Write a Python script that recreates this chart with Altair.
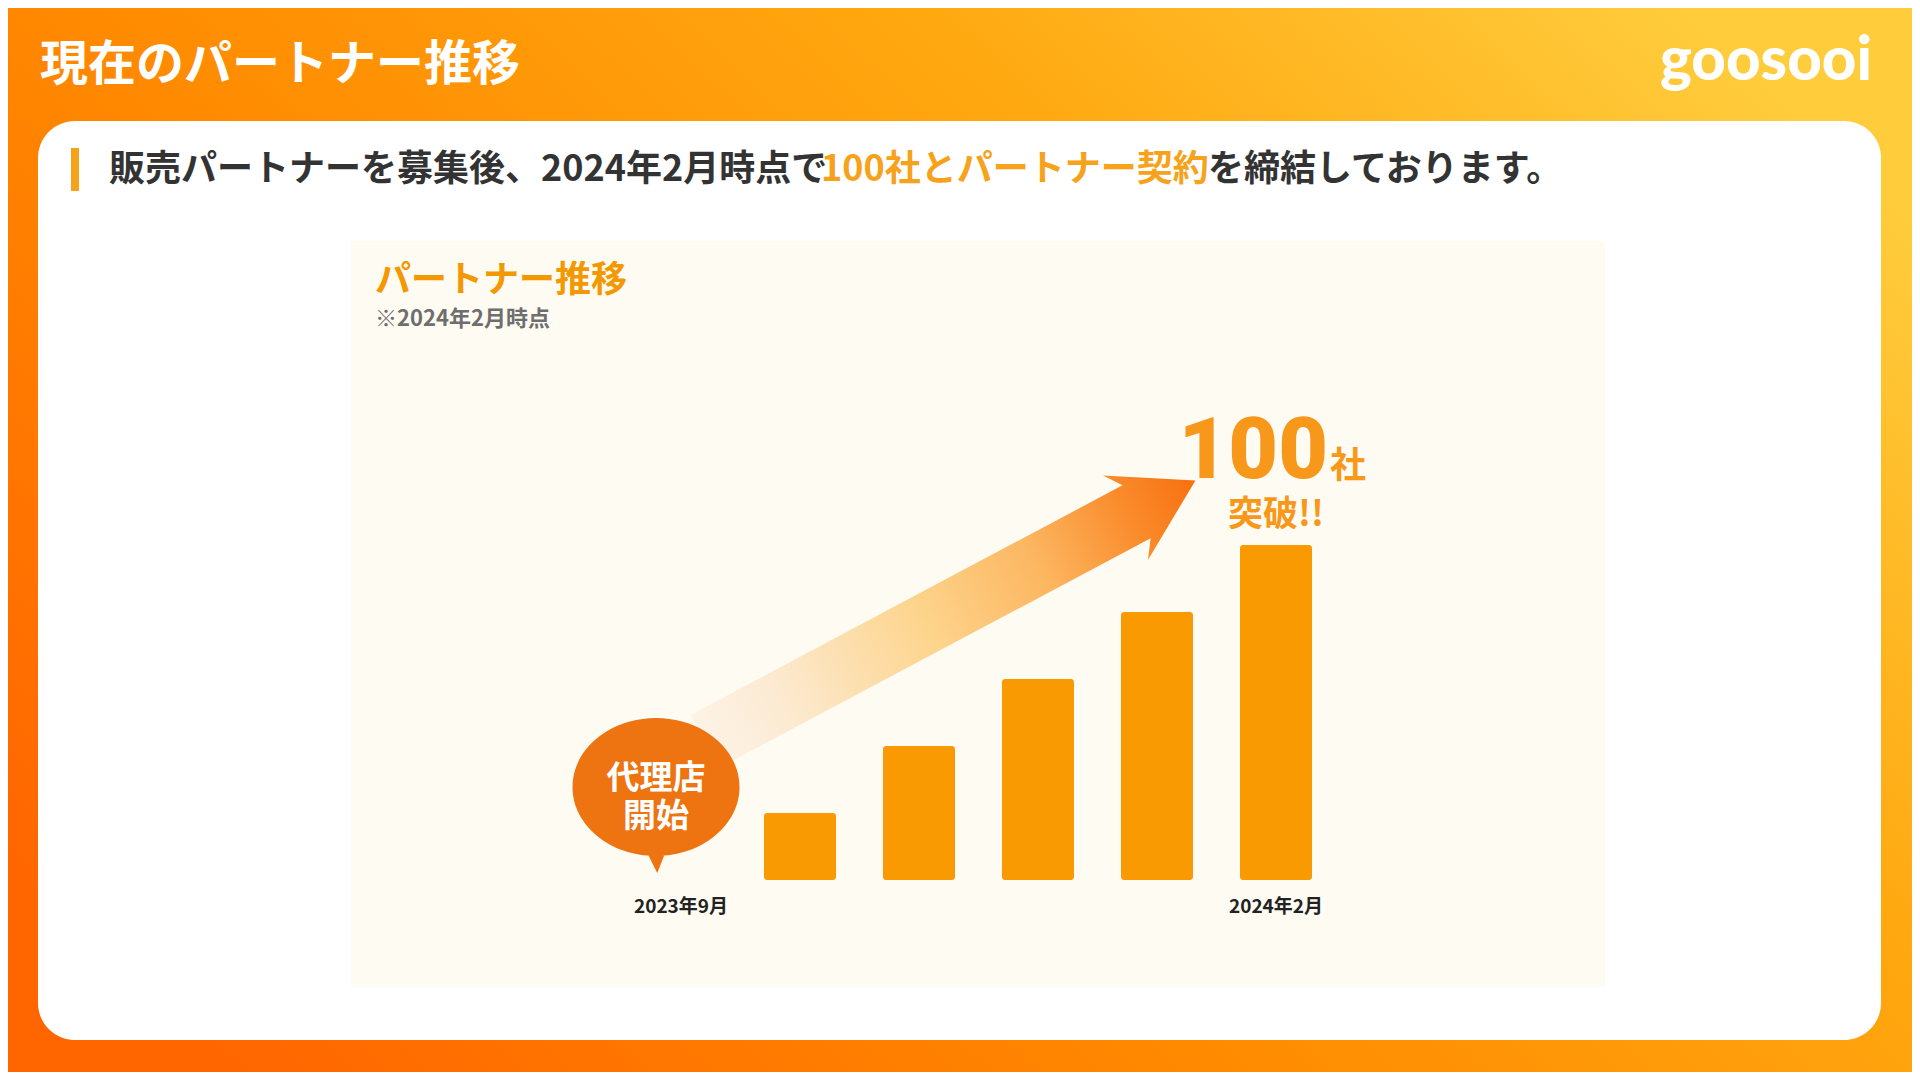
import altair as alt
import pandas as pd

# ---- data -------------------------------------------------------------
months = ["2023年9月", "2023年10月", "2023年11月", "2023年12月", "2024年1月", "2024年2月"]
partners = [0, 20, 40, 60, 80, 100]
month_labels = ["2023年9月", "", "", "", "", "2024年2月"]

page_title = "現在のパートナー推移"
lead_1 = "販売パートナーを募集後、2024年2月時点で"
lead_2 = "100社とパートナー契約"
lead_3 = "を締結しております。"
panel_title = "パートナー推移"
panel_note = "※2024年2月時点"
bubble_text = "代理店\n開始"
goal_number = "100"
goal_unit = "社"
goal_text = "突破!!"
logo_text = "goosooi"

df = pd.DataFrame({"month": months, "partners": partners, "label": month_labels})

W, H = 1904, 1064
FONT = "Noto Sans CJK JP"
ORANGE = "#F99A02"

xscale = alt.Scale(domain=months, range=[613.5, 1327.5], paddingInner=0.395, paddingOuter=0.1975)
yscale = alt.Scale(domain=[0, 100], range=[872, 537])
X = alt.X("month:N", scale=xscale, axis=None, sort=months)

one = pd.DataFrame({"k": [0]})
base1 = alt.Chart(one)

bg = base1.mark_rect(
    color=alt.Gradient(
        gradient="linear",
        stops=[
            alt.GradientStop(color="#FF6600", offset=0),
            alt.GradientStop(color="#FF8A00", offset=0.38),
            alt.GradientStop(color="#FFA810", offset=0.7),
            alt.GradientStop(color="#FFCC3C", offset=1),
        ],
        x1=0, y1=0.8, x2=1, y2=0.2,
    )
).encode(x=alt.value(0), x2=alt.value(W), y=alt.value(0), y2=alt.value(H))

card = base1.mark_rect(color="white", cornerRadius=37).encode(
    x=alt.value(30), x2=alt.value(1873), y=alt.value(113), y2=alt.value(1032)
)
accent = base1.mark_rect(color="#F7A21B").encode(
    x=alt.value(63), x2=alt.value(71), y=alt.value(140), y2=alt.value(183)
)
panel = base1.mark_rect(color="#FEFBF2").encode(
    x=alt.value(343), x2=alt.value(1597), y=alt.value(233), y2=alt.value(979)
)

title = base1.mark_text(
    text=page_title, font=FONT, fontSize=48, fontWeight="bold", color="white",
    align="left", baseline="middle"
).encode(x=alt.value(32), y=alt.value(58))

logo = base1.mark_text(
    text=logo_text, font="Lato", fontSize=60, fontWeight=900, color="white",
    align="center", baseline="middle"
).encode(x=alt.value(1758), y=alt.value(54))

sub1 = base1.mark_text(
    text=lead_1, font=FONT, fontSize=36, fontWeight="bold", color="#333333",
    align="left", baseline="middle"
).encode(x=alt.value(101), y=alt.value(162))
sub2 = base1.mark_text(
    text=lead_2, font=FONT, fontSize=36, fontWeight="bold", color="#F7A21B",
    align="left", baseline="middle"
).encode(x=alt.value(813), y=alt.value(162))
sub3 = base1.mark_text(
    text=lead_3, font=FONT, fontSize=36, fontWeight="bold", color="#333333",
    align="left", baseline="middle"
).encode(x=alt.value(1200), y=alt.value(162))

ptitle = base1.mark_text(
    text=panel_title, font=FONT, fontSize=36, fontWeight="bold", color="#F39800",
    align="left", baseline="middle"
).encode(x=alt.value(367), y=alt.value(273))
pnote = base1.mark_text(
    text=panel_note, font=FONT, fontSize=22, fontWeight="bold", color="#6E6E6E",
    align="left", baseline="middle"
).encode(x=alt.value(367), y=alt.value(311))

# trend arrow (decoration) drawn as a custom symbol
arrow_path = ("M -1 -0.108 L 0.76 -0.108 L 0.715 -0.172 L 1 0 "
              "L 0.715 0.172 L 0.76 0.108 L -1 0.108 Z")
arrow = base1.mark_point(
    shape=arrow_path, filled=True, size=556 * 556, angle=332, strokeWidth=0, opacity=1,
    color=alt.Gradient(
        gradient="linear",
        stops=[
            alt.GradientStop(color="#FDF3E6", offset=0),
            alt.GradientStop(color="#FCEAD2", offset=0.15),
            alt.GradientStop(color="#FDD48C", offset=0.45),
            alt.GradientStop(color="#FCB660", offset=0.68),
            alt.GradientStop(color="#FA8A2A", offset=0.87),
            alt.GradientStop(color="#F7700F", offset=1),
        ],
        x1=0, y1=0, x2=1, y2=0,
    ),
).encode(x=alt.value(942), y=alt.value(603))

data = alt.Chart(df)

bars = data.transform_filter("datum.partners > 0").mark_bar(
    color=ORANGE, cornerRadius=3
).encode(x=X, y=alt.Y("partners:Q", scale=yscale, axis=None))

bubble_path = ("M -1 0 A 1 0.826 0 1 0 1 0 A 1 0.826 0 1 0 -1 0 Z "
               "M 0.13 0.74 L -0.13 0.74 L 0.015 1.03 Z")
bubble = data.transform_filter(alt.datum.month == months[0]).mark_point(
    shape=bubble_path, filled=True, size=167 * 167, color="#EE7311", opacity=1,
    strokeWidth=0, xOffset=-25
).encode(x=X, y=alt.value(779))

bubble_lbl = data.transform_filter(alt.datum.month == months[0]).mark_text(
    text=bubble_text, lineBreak="\n", font=FONT, fontSize=33, fontWeight="bold",
    color="white", align="center", baseline="middle", lineHeight=38, xOffset=-25
).encode(x=X, y=alt.value(771))

labels = data.transform_filter("datum.label != ''").mark_text(
    font=FONT, fontSize=19, fontWeight="bold", color="#222222",
    align="center", baseline="middle"
).encode(x=X, y=alt.value(899), text="label:N")

last = data.transform_filter(alt.datum.month == months[-1])
g_num = last.mark_text(
    text=goal_number, font="Roboto", fontSize=86, fontWeight=900, color="#F7981A",
    align="right", baseline="alphabetic", dx=52
).encode(x=X, y=alt.value(470))
g_unit = last.mark_text(
    text=goal_unit, font=FONT, fontSize=36, fontWeight="bold", color="#F7981A",
    align="left", baseline="alphabetic", dx=54
).encode(x=X, y=alt.value(470))
g_txt = last.mark_text(
    text=goal_text, font=FONT, fontSize=35, fontWeight="bold", color="#F7981A",
    align="center", baseline="alphabetic"
).encode(x=X, y=alt.value(518))

chart = alt.layer(
    bg, card, accent, panel, title, logo, sub1, sub2, sub3, ptitle, pnote,
    arrow, bars, bubble, bubble_lbl, labels, g_num, g_unit, g_txt
).properties(
    width=W, height=H, padding=0, autosize=alt.AutoSizeParams(type="none")
).configure_view(stroke=None).configure(background="#FF8A00")

chart.save("out.html", embed_options={"renderer": "svg", "actions": False})
